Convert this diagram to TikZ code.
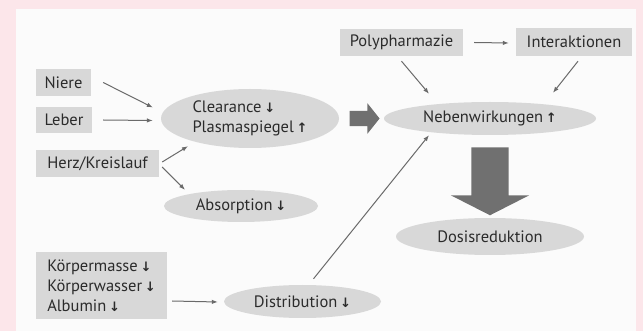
\documentclass[tikz,border=0pt]{standalone}
\usepackage{fontspec}
\setmainfont{PT Sans}
\newfontfamily\arrowfont{DejaVu Sans}
\usetikzlibrary{shapes.geometric, shapes.arrows, arrows.meta}
\definecolor{pinkbg}{HTML}{FCE6EA}
\definecolor{panelbg}{HTML}{FBFBFB}
\definecolor{boxgray}{HTML}{D8D8D8}
\definecolor{linegray}{HTML}{6A6A6A}
\definecolor{fatgray}{HTML}{707070}
\definecolor{txtgray}{HTML}{2B2B2B}
\newcommand{\dn}{\,{\arrowfont\bfseries\fontsize{13pt}{13pt}\selectfont ↓}}
\newcommand{\up}{\,{\arrowfont\bfseries\fontsize{13pt}{13pt}\selectfont ↑}}
\begin{document}
\begin{tikzpicture}[x=1pt, y=-1pt, font=\fontsize{16.5pt}{20pt}\selectfont, text=txtgray,
    box/.style={fill=boxgray, inner sep=0pt, minimum height=27pt},
    oval/.style={ellipse, fill=boxgray, inner sep=0pt},
    link/.style={draw=linegray, line width=1pt, -{Latex[length=6pt,width=4.5pt]}},
    fat/.style={single arrow, fill=fatgray, inner sep=0pt, text depth=0pt}]
    \useasboundingbox (0,0) rectangle (643,331);
    \fill[pinkbg] (0,0) rectangle (643,331);
    \fill[panelbg] (16,9) rectangle (636,331);

    % linke Spalte
    \node[box, minimum width=55pt] (niere) at (63.5,82.5) {Niere};
    \node[box, minimum width=56pt, minimum height=26pt] (leber) at (64,120) {Leber};
    \node[box, minimum width=123pt] (herz) at (97.5,163.5) {Herz/Kreislauf};
    \node[box, minimum width=131pt, minimum height=67pt, align=left]
    (koerper) at (101.5,285.5) {Körpermasse\dn\\Körperwasser\dn\\Albumin\dn};

    % oben rechts
    \node[box, minimum width=123pt] (poly) at (401.5,42.5) {Polypharmazie};
    \node[box, minimum width=116pt, minimum height=28pt] (inter) at (574,42) {Interaktionen};

    % Ellipsen
    \node[oval, minimum width=178pt, minimum height=59pt, align=left]
    (clear) at (250,118.5) {Clearance\dn\\Plasmaspiegel\up};
    \node[oval, minimum width=212pt, minimum height=33pt] (neben) at (490,118.5) {Nebenwirkungen\up};
    \node[oval, minimum width=154pt, minimum height=32pt] (absorp) at (241,206) {Absorption\dn};
    \node[oval, minimum width=188pt, minimum height=37pt] (dosis) at (490,236.5) {Dosisreduktion};
    \node[oval, minimum width=157pt, minimum height=33pt] (distr) at (302.5,301.5) {Distribution\dn};

    % dicke Pfeile
    \path (clear.east) -- node[fat, text height=15pt, minimum height=30pt,
    single arrow head extend=7.5pt, single arrow tip angle=103] (fatright) {} (neben.west);
    \path (neben.south) -- node[fat, rotate=-90, text height=37pt, minimum height=68pt,
    single arrow head extend=20.5pt, single arrow tip angle=126] (fatdown) {} (dosis.north);

    % duenne Pfeile
    \draw[link] ([xshift=12pt]niere.east) -- ([xshift=-8pt,yshift=11pt]clear.west);
    \draw[link] ([xshift=11pt]leber.east) -- ([xshift=-8pt,yshift=-2pt]clear.west);
    \draw[link] ([xshift=3pt,yshift=1.5pt]herz.east) -- ([xshift=-62pt,yshift=2pt]clear.south);
    \draw[link] ([xshift=3pt,yshift=-3.5pt]herz.east) -- ([xshift=-56pt]absorp.north);
    \draw[link] ([xshift=5pt,yshift=-15.5pt]koerper.east) -- ([xshift=-6pt,yshift=-0.5pt]distr.west);
    \draw[link] ([xshift=11pt,yshift=6pt]distr.north) -- ([xshift=-61pt]neben.south);
    \draw[link] ([xshift=11pt]poly.east) -- ([xshift=-7pt,yshift=-1pt]inter.west);
    \draw[link] ([yshift=-5pt]poly.south) -- ([xshift=-61pt,yshift=8pt]neben.north);
    \draw[link] ([xshift=4pt,yshift=-5pt]inter.south) -- ([xshift=63pt,yshift=9pt]neben.north);
\end{tikzpicture}
\end{document}
